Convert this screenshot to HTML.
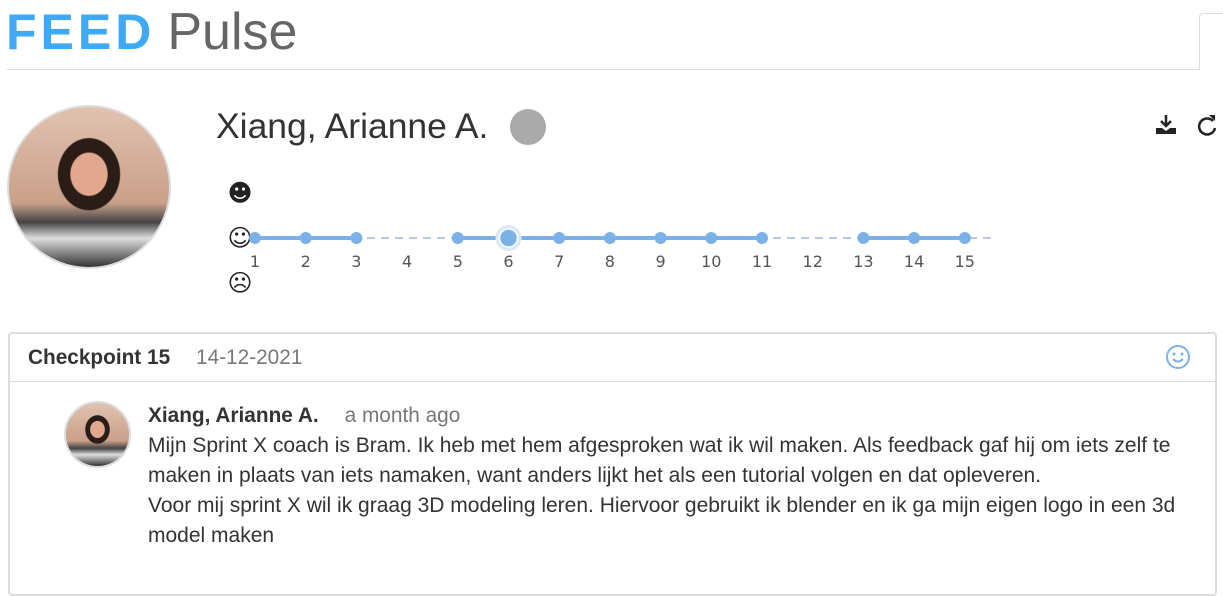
<!DOCTYPE html>
<html><head><meta charset="utf-8"><style>
body{margin:0;width:1223px;height:562px;overflow:hidden;background:#fff;font-family:"Liberation Sans",sans-serif;position:relative}
.abs{position:absolute}
</style></head><body>
<div class="abs" style="left:6px;top:2px;height:56px;white-space:nowrap">
 <span style="font-size:50px;font-weight:bold;color:#3fa9f5;letter-spacing:4px">FEED</span><span style="font-size:52px;color:#666;margin-left:12px">Pulse</span>
</div>
<div class="abs" style="left:7px;top:69px;width:1193px;height:1px;background:#ddd"></div>
<div class="abs" style="left:1199px;top:13px;width:30px;height:56px;border:1px solid #ddd;border-bottom:none;border-radius:4px 0 0 0"></div>

<div class="abs" style="left:7px;top:105px;width:160px;height:160px;border-radius:50%;border:2px solid #ddd;background:radial-gradient(ellipse at 50% 42%,#e2a88e 0 16%,#2a1c16 17% 27%,transparent 28%),linear-gradient(180deg,#e0c2b0 0%,#caa08a 60%,#444 72%,#ddd 82%,#333 100%)"></div>
<div class="abs" style="left:216px;top:106px;font-size:35.5px;color:#333">Xiang, Arianne A.</div>
<div class="abs" style="left:510px;top:109px;width:36px;height:36px;border-radius:50%;background:#aaa"></div>

<svg class="abs" style="left:1150px;top:112px" width="70" height="30">
 <g><path d="M16 3v10M11 9l5 5 5-5" stroke="#222" stroke-width="2.5" fill="none"/><path d="M6 16h6l4 3 4-3h6v6H6z" fill="#222"/></g>
 <g><path d="M63 9a8 8 0 1 0 2 7" stroke="#222" stroke-width="2.5" fill="none"/><path d="M59 3l6 0 0 6z" fill="#222"/></g>
</svg>

<svg class="abs" id="chart" style="left:0;top:170px" width="1010" height="130"></svg>

<div class="abs" style="left:8px;top:332px;width:1205px;height:260px;border:2px solid #ddd;border-radius:4px"></div>
<div class="abs" style="left:10px;top:381px;width:1205px;height:1px;background:#ddd"></div>
<div class="abs" style="left:28px;top:346px;font-size:20.8px;font-weight:bold;color:#333">Checkpoint 15</div>
<div class="abs" style="left:196px;top:346px;font-size:20.8px;color:#777">14-12-2021</div>
<svg class="abs" style="left:1165px;top:344px" width="26" height="26"><circle cx="13" cy="13" r="11" fill="none" stroke="#7fb0e6" stroke-width="2"/><circle cx="9" cy="10" r="1.5" fill="#7fb0e6"/><circle cx="17" cy="10" r="1.5" fill="#7fb0e6"/><path d="M8 15q5 5 10 0" stroke="#7fb0e6" stroke-width="2" fill="none"/></svg>

<div class="abs" style="left:64px;top:401px;width:63px;height:63px;border-radius:50%;border:2px solid #ddd;background:radial-gradient(ellipse at 50% 42%,#e2a88e 0 16%,#2a1c16 17% 27%,transparent 28%),linear-gradient(180deg,#e0c2b0 0%,#caa08a 60%,#444 72%,#ddd 82%,#333 100%)"></div>
<div class="abs" style="left:148px;top:404px;font-size:20.8px;font-weight:bold;color:#333">Xiang, Arianne A.<span style="font-weight:normal;color:#777;margin-left:26px">a month ago</span></div>
<div class="abs" style="left:148px;top:431px;width:1045px;font-size:21px;line-height:30px;color:#333">Mijn Sprint X coach is Bram. Ik heb met hem afgesproken wat ik wil maken. Als feedback gaf hij om iets zelf te maken in plaats van iets namaken, want anders lijkt het als een tutorial volgen en dat opleveren.<br>Voor mij sprint X wil ik graag 3D modeling leren. Hiervoor gebruikt ik blender en ik ga mijn eigen logo in een 3d model maken</div>

<script>
const checkpoints=[1,2,3,4,5,6,7,8,9,10,11,12,13,14,15];
const moods=[1,1,1,null,1,1,1,1,1,1,1,null,1,1,1];
const selectedCheckpoint=6;
const moodIcons=["☹","☺","☻"];
const NS="http://www.w3.org/2000/svg";
const svg=document.getElementById('chart');
const x=c=>255+(c-1)*50.7;
const y=m=>113-m*45;
function mk(t,a){const e=document.createElementNS(NS,t);for(const k in a)e.setAttribute(k,a[k]);svg.appendChild(e);return e;}
moodIcons.forEach((ic,i)=>{const t=mk('text',{x:240,y:y(i)+8,'font-size':24,'text-anchor':'middle',fill:'#222','font-family':'DejaVu Sans'});t.textContent=ic;

});
const bl=mk('line',{x1:x(1),x2:x(15)+26,y1:y(1),y2:y(1),stroke:'#9bb8d8','stroke-width':1.5,'stroke-dasharray':'8,6'});


for(let i=0;i<checkpoints.length-1;i++){
 if(moods[i]!=null&&moods[i+1]!=null){const l=mk('line',{x1:x(checkpoints[i]),x2:x(checkpoints[i+1]),y1:y(moods[i]),y2:y(moods[i+1]),stroke:'#7cb1e8','stroke-width':4});
 
 }
}
checkpoints.forEach((c,i)=>{
 const t=mk('text',{x:x(c),y:97,'font-size':16,'text-anchor':'middle',fill:'#555','font-family':'DejaVu Sans'});t.textContent=c;
 
 
 if(moods[i]==null)return;
 if(c===selectedCheckpoint){const h=mk('circle',{cx:x(c),cy:y(moods[i]),r:13,fill:'#dbe8f7'});
  
  }
 const p=mk('circle',{cx:x(c),cy:y(moods[i]),r:c===selectedCheckpoint?9:6,fill:'#7cb1e8',stroke:c===selectedCheckpoint?'#fff':'none','stroke-width':1.5});
 
 
});
</script>
</body></html>
